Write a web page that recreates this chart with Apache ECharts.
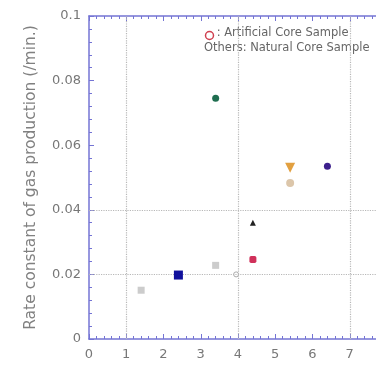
<!DOCTYPE html>
<html>
<head>
<meta charset="utf-8">
<script src="https://cdn.jsdelivr.net/npm/echarts@6/dist/echarts.min.js"></script>
<style>
  html, body { margin: 0; padding: 0; background: #fff; }
  #chart { width: 376px; height: 372px; }
</style>
</head>
<body>
<div id="chart"></div>
<script>
// sample points: [x, rate constant]
const graySmall = [[1.4, 0.0151], [3.4, 0.0228]]
const blueSq = [[2.4, 0.0198]]
const redSq = [[4.4, 0.0246]]
const greenDot = [[3.4, 0.0745]]
const blackMark = [[4.4, 0.036]]
const orangeTri = [[5.4, 0.053]]
const beigeDot = [[5.4, 0.0483]]
const purpleDot = [[6.4, 0.0535]]
const openDot = [[3.95, 0.02]]

const xTicks = [0, 1, 2, 3, 4, 5, 6, 7, 8]
const gridXs = [1, 4, 7]
const gridYs = [0.02, 0.04]

const axisBlue = '#7474d4'
const font = 'DejaVu Sans'

function pts(name, data, symbol, size, color, rotate) {
    return {
        name: name,
        type: 'scatter',
        data: data,
        symbol: symbol,
        symbolSize: size,
        symbolRotate: rotate || 0,
        itemStyle: {color: color, opacity: 1},
        z: 5
    }
}

let baseX = {
    type: 'value',
    min: xTicks[0],
    max: xTicks[xTicks.length - 1],
    interval: 1
}

let option = {
    backgroundColor: '#fff',
    animation: false,
    // plot runs past the right edge of the picture
    grid: {left: 89, top: 16, bottom: 33, right: -11, outerBoundsMode: 'none', containLabel: false},
    xAxis: [
        Object.assign({}, baseX, {
            position: 'bottom',
            axisLine: {lineStyle: {color: axisBlue, width: 1.5}},
            axisTick: {inside: true, length: 5, lineStyle: {color: axisBlue}},
            minorTick: {show: true, splitNumber: 5, length: 3, lineStyle: {color: axisBlue}},
            axisLabel: {color: '#777', fontSize: 13, fontFamily: font, margin: 9},
            splitLine: {show: false}
        }),
        Object.assign({}, baseX, {
            position: 'top',
            axisLine: {lineStyle: {color: axisBlue, width: 1.5}},
            axisTick: {inside: true, length: 5, lineStyle: {color: axisBlue}},
            minorTick: {show: true, splitNumber: 5, length: 3, lineStyle: {color: axisBlue}},
            axisLabel: {show: false},
            splitLine: {show: false}
        })
    ],
    yAxis: {
        type: 'value',
        min: 0,
        max: 0.1,
        interval: 0.02,
        name: 'Rate constant of gas production (/min.)',
        nameLocation: 'middle',
        nameGap: 50,
        nameTextStyle: {color: '#808080', fontSize: 15.5, fontFamily: font},
        axisLine: {show: true, lineStyle: {color: axisBlue, width: 1.5}},
        axisTick: {show: true, inside: true, length: 5, lineStyle: {color: axisBlue}},
        minorTick: {show: true, splitNumber: 5, length: 3, lineStyle: {color: axisBlue}},
        axisLabel: {color: '#777', fontSize: 13, fontFamily: font, margin: 8},
        splitLine: {show: false}
    },
    graphic: [
        {type: 'circle', left: 203, top: 29, shape: {r: 4},
            style: {fill: 'none', stroke: '#d04050', lineWidth: 1.5}},
        {type: 'text', left: 213, top: 27,
            style: {text: ' : Artificial Core Sample', fill: '#666', fontSize: 11.5, fontFamily: font}},
        {type: 'text', left: 204, top: 42,
            style: {text: 'Others: Natural Core Sample', fill: '#666', fontSize: 11.5, fontFamily: font}}
    ],
    series: [
        {
            name: 'grid',
            type: 'scatter',
            data: [],
            markLine: {
                silent: true,
                symbol: 'none',
                label: {show: false},
                lineStyle: {color: '#b8b8b8', type: 'dotted', width: 1.2},
                data: gridXs.map(v => ({xAxis: v})).concat(gridYs.map(v => ({yAxis: v})))
            }
        },
        pts('gray', graySmall, 'rect', 7, '#cccccc'),
        pts('blue', blueSq, 'rect', 9, '#10109c'),
        pts('red', redSq, 'roundRect', 7, '#d0305a'),
        pts('green', greenDot, 'circle', 7, '#1f6e50'),
        pts('black', blackMark, 'triangle', 6, '#222222'),
        pts('orange', orangeTri, 'triangle', 10, '#e2a040', 180),
        pts('beige', beigeDot, 'circle', 8, '#dcc6aa'),
        pts('purple', purpleDot, 'circle', 7, '#3c1f8c'),
        {
            name: 'open',
            type: 'scatter',
            data: openDot,
            symbol: 'circle',
            symbolSize: 5,
            itemStyle: {color: '#fff', borderColor: '#aaa', borderWidth: 1, opacity: 1}
        }
    ]
}

let mychart = echarts.init(document.getElementById('chart'))
mychart.setOption(option)
</script>
</body>
</html>
